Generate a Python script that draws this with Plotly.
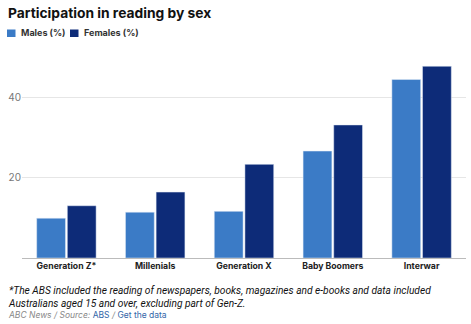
import plotly.graph_objects as go

categories = ["Generation Z*", "Millenials", "Generation X", "Baby Boomers", "Interwar"]
males = [9.9, 11.4, 11.6, 26.6, 44.4]
females = [13.0, 16.4, 23.3, 33.1, 47.7]
series_names = ["Males (%)", "Females (%)"]
colors = ["#3b7bc6", "#0d2b78"]
y_ticks = [20, 40]

W, H = 471, 324
M_L, M_R, M_T, M_B = 22, 5, 55, 66
PH = H - M_T - M_B
PW = W - M_L - M_R

def py(px):
    return (H - M_B - px) / PH

def px_x(px):
    return (px - M_L) / PW

fig = go.Figure()
for name, vals, c in zip(series_names, [males, females], colors):
    fig.add_trace(go.Bar(x=categories, y=vals, name=name, marker_color=c, showlegend=False))

fig.update_layout(
    width=W, height=H,
    margin=dict(l=M_L, r=M_R, t=M_T, b=M_B),
    paper_bgcolor="white", plot_bgcolor="white",
    barmode="group", bargap=0.31, bargroupgap=0.06,
    font=dict(family="Inter, Open Sans, sans-serif", color="#222"),
    title=dict(text="<b>Participation in reading by sex</b>", x=8/W, xref="container", xanchor="left",
               y=1 - 13/H, yref="container", yanchor="middle",
               font=dict(size=13.8, color="#111", family="Inter, sans-serif")),
    showlegend=False,
    xaxis=dict(showline=True, linecolor="#bbbbbb", linewidth=1, ticks="",
               tickfont=dict(size=8.7, color="#222", family="Inter, sans-serif", weight="bold")),
    yaxis=dict(range=[0, 50.5], tickvals=y_ticks, showgrid=True, gridcolor="#e6e6e6",
               zeroline=False, ticks="", tickfont=dict(size=10, color="#777")),
)

# legend drawn manually
legend_x = [7, 70]
for name, c, lx in zip(series_names, colors, legend_x):
    fig.add_shape(type="rect", xref="paper", yref="paper",
                  x0=px_x(lx), x1=px_x(lx + 8.5), y0=py(37), y1=py(29.5),
                  fillcolor=c, line=dict(width=0))
    fig.add_annotation(xref="paper", yref="paper", x=px_x(lx + 12), y=py(33), xanchor="left",
                       yanchor="middle", showarrow=False, text="<b>" + name + "</b>",
                       font=dict(size=9, color="#333", family="Inter, sans-serif"))

foot_lines = ["*The ABS included the reading of newspapers, books, magazines and e-books and data included",
              "Australians aged 15 and over, excluding part of Gen-Z."]
fig.add_annotation(xref="paper", yref="paper", x=px_x(6), y=py(297), xanchor="left", yanchor="middle",
                   align="left", showarrow=False,
                   text="<br>".join("<i>" + l + "</i>" for l in foot_lines),
                   font=dict(size=10.2, color="#111", family="Roboto, sans-serif"))
fig.add_annotation(xref="paper", yref="paper", x=px_x(6), y=py(314.5), xanchor="left", yanchor="middle",
                   showarrow=False,
                   text="<i>ABC News / Source: </i><span style='color:#3366a8'>ABS</span> <i>/</i> <span style='color:#3366a8'>Get the data</span>",
                   font=dict(size=8.5, color="#888", family="Inter, sans-serif"))

fig.write_html("out.html")
